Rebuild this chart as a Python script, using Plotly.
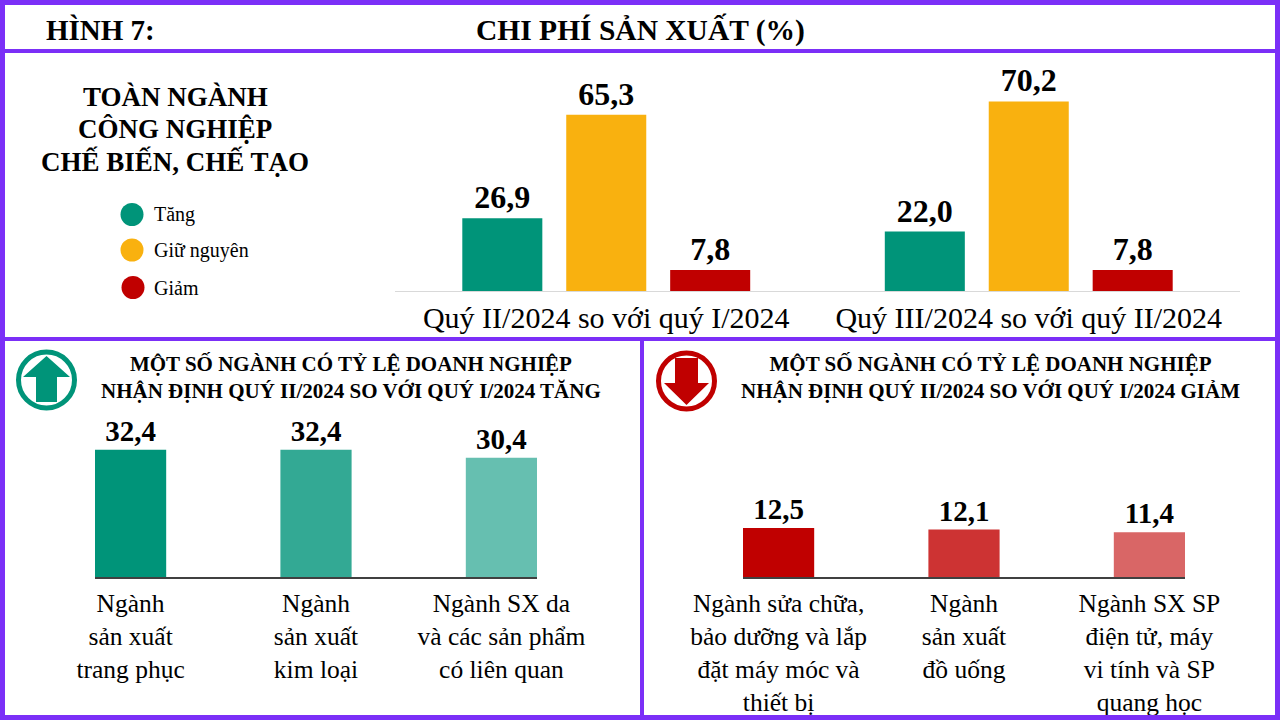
import plotly.graph_objects as go

FONT = "Liberation Serif"
PURPLE = "#7B2FF7"

# ---- data ----
top_categories = ["Quý II/2024 so với quý I/2024", "Quý III/2024 so với quý II/2024"]
series_names = ["Tăng", "Giữ nguyên", "Giảm"]
tang = [26.9, 22.0]
giu_nguyen = [65.3, 70.2]
giam = [7.8, 7.8]
series_colors = ["#009479", "#F9B10F", "#C00000"]

up_categories = ["Ngành<br>sản xuất<br>trang phục",
                 "Ngành<br>sản xuất<br>kim loại",
                 "Ngành SX da<br>và các sản phẩm<br>có liên quan"]
up_values = [32.4, 32.4, 30.4]
up_colors = ["#009479", "#33A994", "#66BFB0"]

down_categories = ["Ngành sửa chữa,<br>bảo dưỡng và lắp<br>đặt máy móc và<br>thiết bị",
                   "Ngành<br>sản xuất<br>đồ uống",
                   "Ngành SX SP<br>điện tử, máy<br>vi tính và SP<br>quang học"]
down_values = [12.5, 12.1, 11.4]
down_colors = ["#C00000", "#CD3333", "#D96666"]


def fmt(v):
    return f"{v:.1f}".replace(".", ",")


# pixel -> paper helpers (margins are zero)
def X(px):
    return px / 1280


def Y(py):
    return 1 - py / 720


fig = go.Figure()

# top grouped bars
for name, vals, col in zip(series_names, [tang, giu_nguyen, giam], series_colors):
    fig.add_trace(go.Bar(
        x=top_categories, y=vals, name=name, marker_color=col,
        text=[fmt(v) for v in vals], textposition="outside",
        textfont=dict(family=FONT, size=32, color="black", weight="bold"),
        constraintext="none", cliponaxis=False, showlegend=False,
        xaxis="x", yaxis="y"))

# bottom left
fig.add_trace(go.Bar(
    x=up_categories, y=up_values, marker_color=up_colors,
    text=[fmt(v) for v in up_values], textposition="outside",
    textfont=dict(family=FONT, size=29, color="black", weight="bold"),
    constraintext="none", cliponaxis=False, showlegend=False,
    xaxis="x2", yaxis="y2"))

# bottom right
fig.add_trace(go.Bar(
    x=down_categories, y=down_values, marker_color=down_colors,
    text=[fmt(v) for v in down_values], textposition="outside",
    textfont=dict(family=FONT, size=29, color="black", weight="bold"),
    constraintext="none", cliponaxis=False, showlegend=False,
    xaxis="x3", yaxis="y3"))

shapes = []
# frame
shapes.append(dict(type="rect", xref="paper", yref="paper",
                   x0=X(2.5), x1=X(1277.5), y0=Y(2.5), y1=Y(717.5),
                   line=dict(color=PURPLE, width=5)))
shapes.append(dict(type="line", xref="paper", yref="paper",
                   x0=0, x1=1, y0=Y(51), y1=Y(51), line=dict(color=PURPLE, width=4)))
shapes.append(dict(type="line", xref="paper", yref="paper",
                   x0=0, x1=1, y0=Y(339), y1=Y(339), line=dict(color=PURPLE, width=4)))
shapes.append(dict(type="line", xref="paper", yref="paper",
                   x0=X(642), x1=X(642), y0=Y(339), y1=0, line=dict(color=PURPLE, width=4)))

# legend circles
for (cx, cy), col in zip([(132, 214.5), (132, 250), (133, 287.5)], series_colors):
    shapes.append(dict(type="circle", xref="paper", yref="paper",
                       x0=X(cx - 11.5), x1=X(cx + 11.5), y0=Y(cy - 11.5), y1=Y(cy + 11.5),
                       fillcolor=col, line=dict(width=0)))


# icons
def ring(cx, cy, r, col):
    return dict(type="circle", xref="paper", yref="paper",
                x0=X(cx - r), x1=X(cx + r), y0=Y(cy - r), y1=Y(cy + r),
                fillcolor="white", line=dict(color=col, width=5))


def poly(points, col):
    d = "M " + " L ".join(f"{X(a):.5f},{Y(b):.5f}" for a, b in points) + " Z"
    return dict(type="path", xref="paper", yref="paper", path=d,
                fillcolor=col, line=dict(width=0))


shapes.append(ring(46.5, 380, 28, "#009479"))
shapes.append(poly([(46.5, 356), (70, 377), (57, 377), (57, 402), (36, 402), (36, 377), (23, 377)],
                   "#009479"))
shapes.append(ring(686.5, 381, 28, "#C00000"))
shapes.append(poly([(675, 358), (698, 358), (698, 383), (709, 383), (686.5, 405), (664, 383), (675, 383)],
                   "#C00000"))

annotations = []


def txt(text, x, y, size, bold=False, xanchor="center"):
    annotations.append(dict(text=text, xref="paper", yref="paper", x=X(x), y=Y(y),
                            xanchor=xanchor, yanchor="middle", showarrow=False,
                            font=dict(family=FONT, size=size, color="black",
                                      weight="bold" if bold else "normal")))


txt("HÌNH 7:", 44, 30, 29, True, "left")
txt("CHI PHÍ SẢN XUẤT (%)", 640, 30, 29.5, True)
for line, cy in zip(["TOÀN NGÀNH", "CÔNG NGHIỆP", "CHẾ BIẾN, CHẾ TẠO"], [97, 129, 161]):
    txt(line, 175, cy, 27, True)
for (cy, name) in zip([214.5, 250, 287.5], series_names):
    txt(name, 152, cy, 20, False, "left")
txt("MỘT SỐ NGÀNH CÓ TỶ LỆ DOANH NGHIỆP<br>NHẬN ĐỊNH QUÝ II/2024 SO VỚI QUÝ I/2024 TĂNG",
    351, 377, 21, True)
txt("MỘT SỐ NGÀNH CÓ TỶ LỆ DOANH NGHIỆP<br>NHẬN ĐỊNH QUÝ II/2024 SO VỚI QUÝ I/2024 GIẢM",
    990, 377, 21, True)

hidden_y = dict(visible=False, showgrid=False, zeroline=False, automargin=False)

fig.update_layout(
    template="none",
    width=1280, height=720,
    margin=dict(l=0, r=0, t=0, b=0, pad=0, autoexpand=False),
    paper_bgcolor="white", plot_bgcolor="white",
    barmode="group", bargap=0.262, bargroupgap=0.23,
    font=dict(family=FONT, color="black"),
    xaxis=dict(domain=[X(395), X(1240)], anchor="y", showline=True, linecolor="#D9D9D9",
               linewidth=1, showgrid=False, zeroline=False, ticks="", ticklabelstandoff=0,
               automargin=False, tickfont=dict(family=FONT, size=30, color="black")),
    yaxis=dict(domain=[Y(291), Y(75)], range=[0, 80], anchor="x", **hidden_y),
    xaxis2=dict(domain=[X(95), X(537)], anchor="y2", range=[-0.192, 2.192],
                showline=True, linecolor="#404040", linewidth=2, showgrid=False,
                zeroline=False, ticks="", ticklabelstandoff=2, automargin=False,
                tickfont=dict(family=FONT, size=25.5, color="black")),
    yaxis2=dict(domain=[Y(577), Y(420)], range=[0, 40], anchor="x2", **hidden_y),
    xaxis3=dict(domain=[X(743), X(1185)], anchor="y3", range=[-0.192, 2.192],
                showline=True, linecolor="#404040", linewidth=2, showgrid=False,
                zeroline=False, ticks="", ticklabelstandoff=2, automargin=False,
                tickfont=dict(family=FONT, size=25.5, color="black")),
    yaxis3=dict(domain=[Y(577), Y(420)], range=[0, 40], anchor="x3", **hidden_y),
    shapes=shapes,
    annotations=annotations,
)
fig.update_traces(width=0.384, selector=dict(xaxis="x2"))
fig.update_traces(width=0.384, selector=dict(xaxis="x3"))

fig.write_html("out.html", config={"displayModeBar": False},
               post_script="document.body.style.margin='0';")
